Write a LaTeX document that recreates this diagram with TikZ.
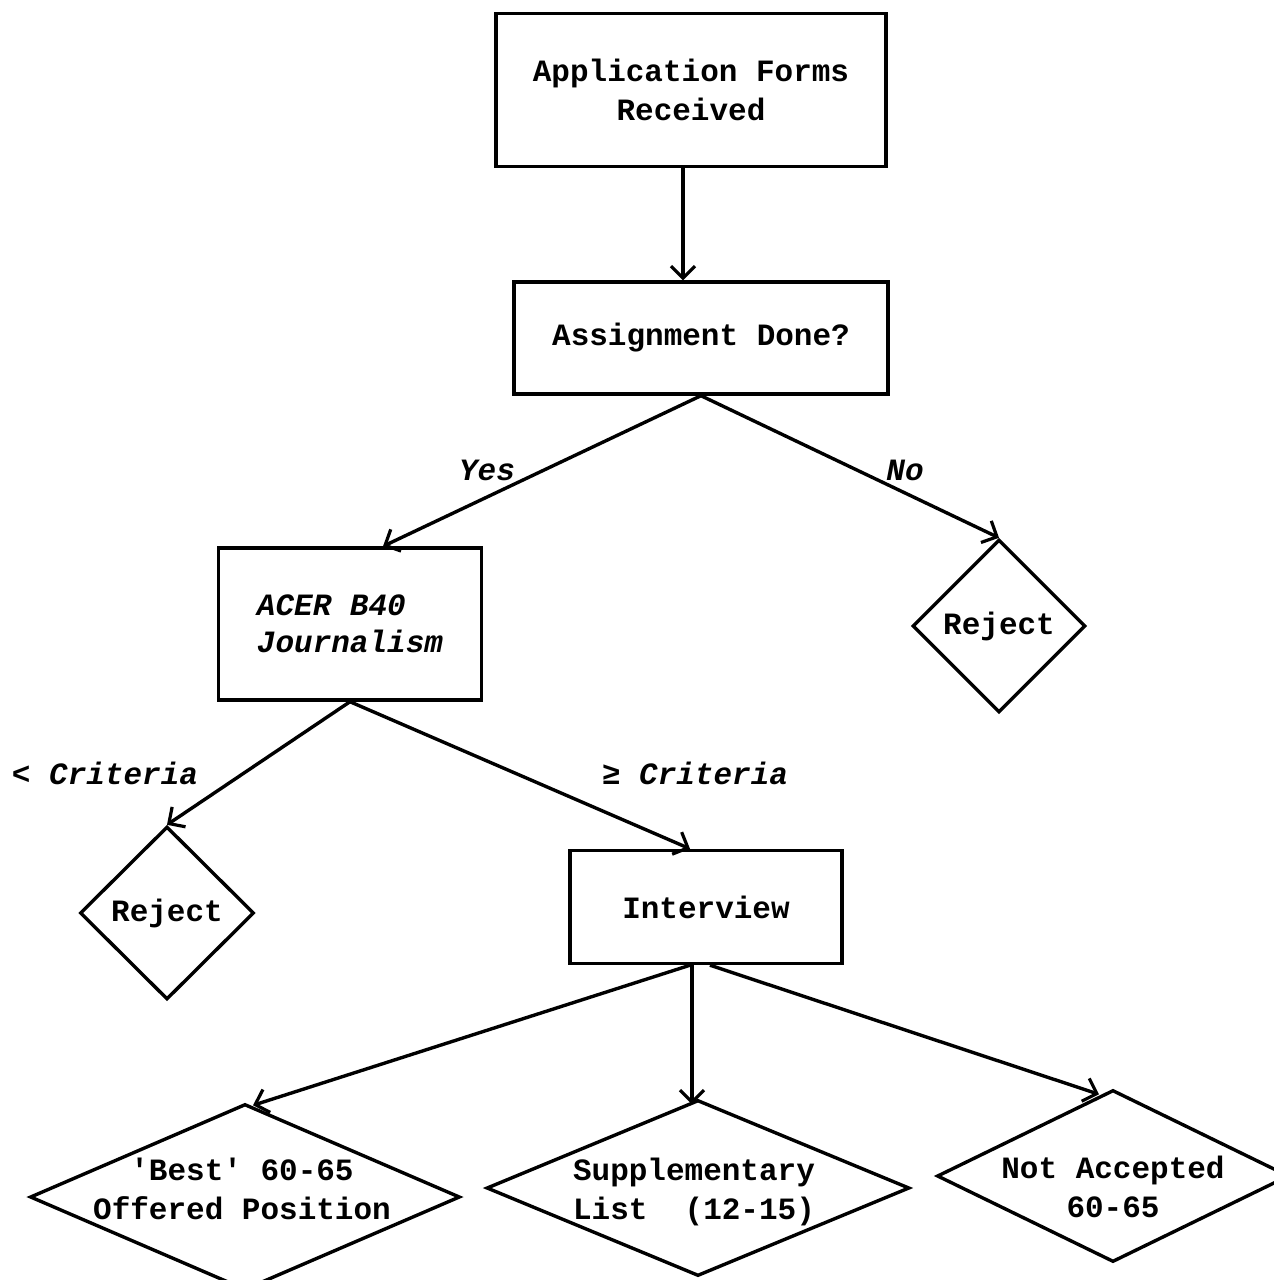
\documentclass[tikz,border=0pt]{standalone}
\usepackage{fontspec}
\setmonofont{Liberation Mono}[UprightFont=* Bold,ItalicFont=* Bold Italic]
\usetikzlibrary{shapes.geometric,arrows.meta}
\newcommand\zw[1]{\makebox[0pt]{#1}}
\newcommand\dlines[2]{\makebox[0pt]{\smash{\raisebox{#1}{\begin{tabular}{@{}c@{}}#2\end{tabular}}}}}
\begin{document}
\begin{tikzpicture}[x=1pt,y=-1pt,
  every node/.style={font=\ttfamily\fontsize{31}{39}\selectfont},
  boxnode/.style={draw,line width=3.4pt,rectangle,inner sep=0pt,align=center},
  dianode/.style={draw,line width=3.4pt,diamond,inner sep=0pt,align=center,font=\ttfamily\fontsize{31}{39}\selectfont},
  lab/.style={font=\ttfamily\itshape\fontsize{31}{39}\selectfont},
  conn/.style={line width=3.4pt,-{Straight Barb[length=12pt,width=24pt,line width=3.2pt]}}]
\useasboundingbox (0,0) rectangle (1274,1280);
\node[boxnode,minimum width=390,minimum height=153] (b1) at (691,90) {Application Forms\\Received};
\node[boxnode,minimum width=374,minimum height=112] (b2) at (701,338) {Assignment Done?};
\node[boxnode,minimum width=263,minimum height=152,align=left,font=\ttfamily\itshape\fontsize{31}{37}\selectfont] (acer) at (350,624) {ACER B40\\Journalism};
\node[dianode,minimum width=173,minimum height=173] (rej1) at (999,626) {\zw{Reject}};
\node[dianode,minimum width=174,minimum height=173] (rej2) at (167,913) {\zw{Reject}};
\node[boxnode,minimum width=272,minimum height=113] (int) at (706,907) {Interview};
\node[dianode,minimum width=430,minimum height=186] (best) at (245,1197) {\dlines{-1pt}{\hspace*{-6pt}'Best' 60-65\\\hspace*{-6pt}Offered Position}};
\node[dianode,minimum width=423,minimum height=176] (supp) at (698,1188) {\dlines{-10pt}{\hspace*{-8pt}Supplementary\\\hspace*{-8pt}List\ \ (12-15)}};
\node[dianode,minimum width=352,minimum height=172] (na) at (1113,1176) {\dlines{-20pt}{Not Accepted\\60-65}};

\node[lab] (yes) at (487,470) {Yes};
\node[lab] (no) at (905,470) {No};
\node[lab] (lc) at (105,773) {< Criteria};
\node[lab] (gc) at (695,773) {≥ Criteria};

\draw[conn] ([xshift=-8]b1.south) -- ([xshift=-18]b2.north);
\draw[conn] (b2.south) -- ([xshift=33]acer.north);
\draw[conn] (b2.south) -- (rej1.north);
\draw[conn] (acer.south) -- (rej2.north);
\draw[conn] (acer.south) -- ([xshift=-16]int.north);
\draw[conn] ([xshift=-16]int.south) -- ([xshift=8,yshift=-3]best.north);
\draw[conn] ([xshift=-14]int.south) -- ([xshift=-6,yshift=-6]supp.north);
\draw[conn] ([xshift=4]int.south) -- ([xshift=-14,yshift=-6]na.north);
\end{tikzpicture}
\end{document}
